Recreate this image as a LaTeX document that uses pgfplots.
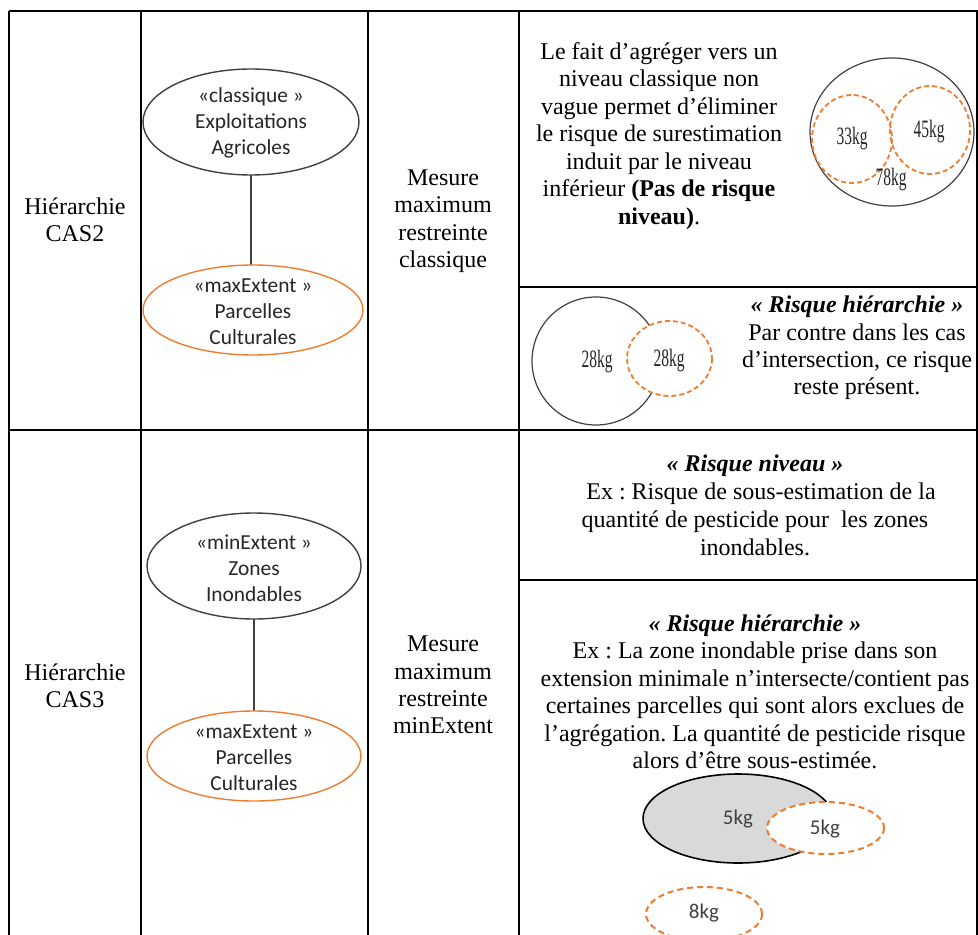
\documentclass[border=0pt]{standalone}
\usepackage{fontspec}
\setmainfont{Liberation Serif}
\newfontfamily\sansf{Carlito}
\usepackage{graphicx}
\usepackage{pgfplots}
\pgfplotsset{compat=1.18}
\definecolor{orng}{HTML}{ED7D31}
\definecolor{dgray}{HTML}{404040}
\definecolor{lgray}{HTML}{D9D9D9}
\definecolor{tgray}{HTML}{262626}
\newcommand\kg[1]{\scalebox{0.62}[1]{\fontsize{12.5}{13}\selectfont #1}}
\frenchspacing
\begin{document}
\begin{tikzpicture}
\begin{axis}[scale only axis, width=489pt, height=467.5pt,
  xmin=0, xmax=978, ymin=0, ymax=935, y dir=reverse, hide axis, clip=true,
  every axis plot/.append style={mark=none}]
\path (rel axis cs:0,0) rectangle (rel axis cs:1,1);
% table rules
\addplot[black, line width=1pt] coordinates {(9,11) (978,11)};
\addplot[black, line width=1pt] coordinates {(9,430) (978,430)};
\addplot[black, line width=1pt] coordinates {(519,287) (978,287)};
\addplot[black, line width=1pt] coordinates {(519,580) (978,580)};
\addplot[black, line width=1pt] coordinates {(9,11) (9,935)};
\addplot[black, line width=1pt] coordinates {(141,11) (141,935)};
\addplot[black, line width=1pt] coordinates {(368,11) (368,935)};
\addplot[black, line width=1pt] coordinates {(519,11) (519,935)};
\addplot[black, line width=1pt] coordinates {(977,11) (977,935)};
% connectors
\addplot[dgray, line width=0.8pt] coordinates {(251,175) (251,266)};
\addplot[dgray, line width=0.8pt] coordinates {(254,619) (254,711)};
% column 1
\node[align=center, font=\fontsize{12}{13.3}\selectfont] at (axis cs:75,220) {Hiérarchie\\CAS2};
\node[align=center, font=\fontsize{12}{13.3}\selectfont] at (axis cs:75,686) {Hiérarchie\\CAS3};
% column 2 ellipses
\draw[dgray, line width=0.7pt, fill=white] (axis cs:251,122) ellipse [x radius=108, y radius=53];
\node[align=center, text=tgray, font=\sansf\fontsize{10.7}{13}\selectfont] at (axis cs:251,123) {«classique »\\Exploitations\\Agricoles};
\draw[orng, line width=0.7pt, fill=white] (axis cs:253,310) ellipse [x radius=110, y radius=45];
\node[align=center, text=tgray, font=\sansf\fontsize{10.7}{13}\selectfont] at (axis cs:253,312) {«maxExtent »\\Parcelles\\Culturales};
\draw[dgray, line width=0.7pt, fill=white] (axis cs:254,566) ellipse [x radius=107, y radius=53];
\node[align=center, text=tgray, font=\sansf\fontsize{10.7}{13}\selectfont] at (axis cs:254,568) {«minExtent »\\Zones\\Inondables};
\draw[orng, line width=0.7pt, fill=white] (axis cs:254,756) ellipse [x radius=107, y radius=45];
\node[align=center, text=tgray, font=\sansf\fontsize{10.7}{13}\selectfont] at (axis cs:254,758) {«maxExtent »\\Parcelles\\Culturales};
% column 3
\node[align=center, font=\fontsize{12}{13.7}\selectfont] at (axis cs:443,221) {Mesure\\maximum\\restreinte\\classique};
\node[align=center, font=\fontsize{12}{13.7}\selectfont] at (axis cs:443,685) {Mesure\\maximum\\restreinte\\minExtent};
% column 4, row 1
\node[align=center, font=\fontsize{12}{13.75}\selectfont] at (axis cs:659,136) {Le fait d’agréger vers un\\niveau classique non\\vague permet d’éliminer\\le risque de surestimation\\induit par le niveau\\inférieur \textbf{(Pas de risque}\\\textbf{niveau)}.};
\draw[dgray, line width=0.6pt] (axis cs:892,132) ellipse [x radius=82, y radius=74];
\draw[orng, line width=0.9pt, dash pattern=on 2.5pt off 1.5pt] (axis cs:852,139) ellipse [x radius=40, y radius=44];
\draw[orng, line width=0.9pt, dash pattern=on 2.5pt off 1.5pt] (axis cs:930,130) ellipse [x radius=40, y radius=44];
\node[text=tgray] at (axis cs:852,139) {\kg{33kg}};
\node[text=tgray] at (axis cs:929,132) {\kg{45kg}};
\node[text=tgray] at (axis cs:891,180) {\kg{78kg}};
% column 4, row 2
\draw[dgray, line width=0.6pt] (axis cs:596,361) ellipse [x radius=64, y radius=64];
\draw[orng, line width=0.9pt, dash pattern=on 2.5pt off 1.5pt, fill=white] (axis cs:669.5,358.5) ellipse [x radius=42.5, y radius=37.5];
\node[text=tgray] at (axis cs:597,362) {\kg{28kg}};
\node[text=tgray] at (axis cs:669,361) {\kg{28kg}};
\node[align=center, font=\fontsize{12}{13.6}\selectfont] at (axis cs:857,348) {\textbf{\textit{« Risque hiérarchie »}}\\Par contre dans les cas\\d’intersection, ce risque\\reste présent.};
% column 4, row 3
\node[align=center, font=\fontsize{12}{14}\selectfont] at (axis cs:755,505) {\textbf{\textit{« Risque niveau »}}\\\ \ Ex : Risque de sous-estimation de la\\quantité de pesticide pour \ les zones\\inondables.};
% column 4, row 4
\node[align=center, font=\fontsize{12}{13.75}\selectfont] at (axis cs:755,692) {\textbf{\textit{« Risque hiérarchie »}}\\Ex : La zone inondable prise dans son\\extension minimale n’intersecte/contient pas\\certaines parcelles qui sont alors exclues de\\l’agrégation. La quantité de pesticide risque\\alors d’être sous-estimée.};
\draw[black, line width=0.8pt, fill=lgray] (axis cs:738,818.5) ellipse [x radius=95, y radius=44.5];
\draw[orng, line width=1pt, dash pattern=on 3pt off 2pt, fill=white] (axis cs:825.5,828) ellipse [x radius=58.5, y radius=26];
\draw[orng, line width=1pt, dash pattern=on 3pt off 2pt, fill=white] (axis cs:704,914) ellipse [x radius=58, y radius=27];
\node[text=dgray, font=\sansf\fontsize{10.5}{12}\selectfont] at (axis cs:738,819) {5kg};
\node[text=dgray, font=\sansf\fontsize{10.5}{12}\selectfont] at (axis cs:825,829) {5kg};
\node[text=dgray, font=\sansf\fontsize{10.5}{12}\selectfont] at (axis cs:704,913) {8kg};
\end{axis}
\end{tikzpicture}
\end{document}
